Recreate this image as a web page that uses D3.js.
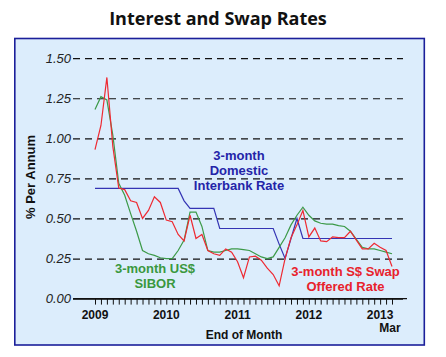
<!DOCTYPE html>
<html><head><meta charset="utf-8">
<script src="https://cdn.jsdelivr.net/npm/d3@7"></script>
<style>
html,body{margin:0;padding:0;background:#fff;}
svg{display:block;}
</style></head>
<body>
<svg id="chart" width="446" height="357"></svg>
<script>
// ---- data (monthly, end of month, Jan 2009 .. Mar 2013) ----
const startYear = 2009;
const monthCount = 51;
const yearLabels = ["2009","2010","2011","2012","2013"];
const yTicks = [0, 0.25, 0.5, 0.75, 1.0, 1.25, 1.5];

const swapRate = [0.93,1.08,1.38,0.95,0.69,0.68,0.61,0.60,0.50,0.55,0.635,0.60,
  0.49,0.48,0.40,0.36,0.52,0.375,0.40,0.30,0.28,0.27,0.31,0.29,
  0.23,0.13,0.26,0.265,0.24,0.19,0.15,0.08,0.25,0.38,0.46,0.55,
  0.385,0.44,0.36,0.355,0.385,0.38,0.38,0.42,0.365,0.31,0.31,0.345,
  0.32,0.30,0.20];
const sibor = [1.18,1.26,1.24,1.02,0.72,0.645,0.53,0.42,0.30,0.28,0.27,0.255,
  0.25,0.25,0.30,0.365,0.54,0.54,0.45,0.30,0.29,0.29,0.30,0.31,
  0.31,0.305,0.30,0.28,0.26,0.25,0.26,0.32,0.38,0.46,0.52,0.57,
  0.52,0.485,0.47,0.465,0.465,0.455,0.45,0.42,0.37,0.32,0.31,0.31,
  0.30,0.29,0.28];
const interbank = [0.6875,0.6875,0.6875,0.6875,0.6875,0.6875,0.6875,0.6875,0.6875,0.6875,0.6875,0.6875,
  0.6875,0.6875,0.6875,0.61,0.5625,0.5625,0.5625,0.5625,0.5625,0.4375,0.4375,0.4375,
  0.4375,0.4375,0.4375,0.4375,0.4375,0.4375,0.4375,0.34,0.25,0.375,0.50,0.375,
  0.375,0.375,0.375,0.375,0.375,0.375,0.375,0.375,0.375,0.375,0.375,0.375,
  0.375,0.375,0.375];

const months = d3.range(monthCount);

const svg = d3.select("#chart");
const font = "'Liberation Sans', Arial, sans-serif";

// title
svg.append("text").attr("x", 218).attr("y", 25).attr("text-anchor","middle")
  .attr("font-family","'Open Sans', sans-serif").attr("font-weight","bold")
  .attr("font-size","18px").attr("fill","#111").text("Interest and Swap Rates");

// panel
svg.append("rect").attr("x",14.8).attr("y",38.5).attr("width",409.5).attr("height",306.5)
  .attr("fill","#dcedfc").attr("stroke","#1b1f9a").attr("stroke-width",1.6);

const x = d3.scaleLinear().domain([0, monthCount-1]).range([95, 392]);
const y = d3.scaleLinear().domain([0, 1.5]).range([298.6, 58.2]);

// y axis with dashed grid
const yAxis = d3.axisLeft(y).tickValues(yTicks).tickFormat(d3.format(".2f"))
  .tickSize(-(403-73)).tickPadding(2);
const gy = svg.append("g").attr("transform","translate(73,0)").call(yAxis);
gy.select(".domain").remove();
gy.selectAll(".tick line").attr("stroke","#111").attr("stroke-width",1.2)
  .attr("stroke-dasharray", d => d === 0 ? null : "7,5");
gy.selectAll(".tick text").attr("font-family",font).attr("font-style","italic")
  .attr("font-size","13px").attr("fill","#222");

// x axis
const gx = svg.append("g").attr("transform","translate(0,298.6)");
gx.append("line").attr("x1",73).attr("x2",407).attr("y1",0).attr("y2",0)
  .attr("stroke","#111").attr("stroke-width",1.4);
const xAxis = d3.axisBottom(x).tickValues(months).tickSize(6).tickFormat("");
const gxt = gx.append("g").call(xAxis);
gxt.select(".domain").remove();
gxt.selectAll(".tick line").attr("stroke","#111").attr("stroke-width",1);

const yearIdx = yearLabels.map((d,i)=> i*12);
gx.selectAll("text.year").data(yearLabels).join("text").attr("class","year")
  .attr("x",(d,i)=>x(yearIdx[i])).attr("y",20.7).attr("text-anchor","middle")
  .attr("font-family",font).attr("font-weight","bold").attr("font-size","12px")
  .attr("fill","#111").text(d=>d);
gx.append("text").attr("x", x(monthCount-1)-2).attr("y",33).attr("text-anchor","middle")
  .attr("font-family",font).attr("font-weight","bold").attr("font-size","12px")
  .attr("fill","#111").text("Mar");

svg.append("text").attr("x",244).attr("y",338.5).attr("text-anchor","middle")
  .attr("font-family",font).attr("font-weight","bold").attr("font-size","12px")
  .attr("fill","#111").text("End of Month");

svg.append("text").attr("transform","translate(35,177) rotate(-90)").attr("text-anchor","middle")
  .attr("font-family",font).attr("font-weight","bold").attr("font-size","13px")
  .attr("fill","#111").text("% Per Annum");

// lines
const line = d3.line().x((d,i)=>x(i)).y(d=>y(d));
const series = [
  {values: interbank, color:"#3434b4"},
  {values: sibor, color:"#3c9a48"},
  {values: swapRate, color:"#ee2a32"}
];
svg.selectAll("path.series").data(series).join("path").attr("class","series")
  .attr("d", d=>line(d.values)).attr("fill","none")
  .attr("stroke", d=>d.color).attr("stroke-width",1.2);

// annotations
function label(lines, cx, y0, color){
  const t = svg.append("text").attr("text-anchor","middle").attr("font-family",font)
    .attr("font-weight","bold").attr("font-size","13px").attr("fill",color);
  lines.forEach((s,i)=> t.append("tspan").attr("x",cx).attr("y",y0+i*15).text(s));
}
label(["3-month","Domestic","Interbank Rate"], 239, 160, "#2424a8");
label(["3-month US$","SIBOR"], 155, 273, "#3a983e");
label(["3-month S$ Swap","Offered Rate"], 345.5, 276, "#e8222c");
</script>
</body></html>
